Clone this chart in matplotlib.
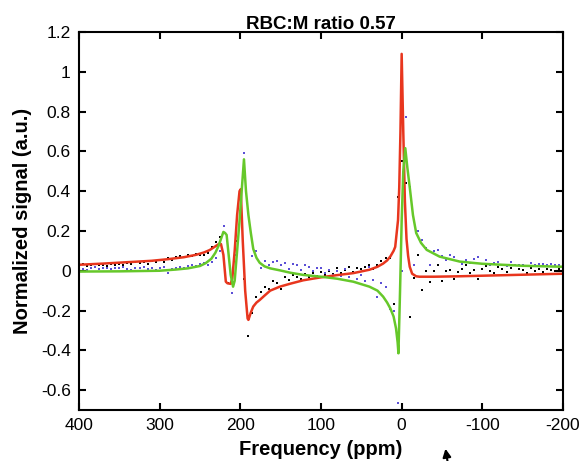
import numpy as np
import matplotlib.pyplot as plt

plt.rcParams['font.family'] = ['Liberation Sans', 'DejaVu Sans']

real_fit_ppm = [400, 370, 340, 310, 290, 270, 255, 245, 238, 232, 226, 224, 221, 218, 216, 212,
                210, 207, 204, 201, 199.5, 197, 194, 191, 190, 187, 184, 180, 176, 170, 163, 151,
                138, 122, 100, 80, 60, 40, 30, 23, 18, 14, 10, 8, 4.5, 3, 1.5, 0,
                -2, -4, -6, -8, -10, -13, -18, -22, -40, -70, -100, -150, -200]
real_fit = [0.030, 0.036, 0.043, 0.050, 0.058, 0.068, 0.080, 0.092, 0.104, 0.120, 0.136, 0.134,
            0.080, -0.055, -0.063, -0.066, -0.040, 0.100, 0.280, 0.400, 0.410, 0.150, -0.100,
            -0.240, -0.247, -0.210, -0.180, -0.160, -0.147, -0.125, -0.100, -0.080, -0.065,
            -0.048, -0.033, -0.022, -0.012, 0.005, 0.020, 0.036, 0.052, 0.072, 0.100, 0.120,
            0.255, 0.420, 0.700, 1.090, 0.700, 0.350, 0.160, 0.075, 0.020, -0.015, -0.028,
            -0.030, -0.030, -0.028, -0.025, -0.020, -0.015]

imag_fit_ppm = [400, 350, 300, 280, 265, 250, 243, 236, 231, 227, 224, 221, 219, 217, 215, 212,
                209, 207, 204, 201, 198, 195.5, 193, 190, 187, 184, 180, 176, 170, 163, 151, 138,
                122, 100, 80, 60, 40, 30, 23, 18, 14, 10, 7, 5, 4, 2, 0,
                -2, -4.5, -7, -10, -14, -18, -24, -31, -47, -72, -100, -150, -200]
imag_fit = [-0.004, -0.003, 0.000, 0.006, 0.012, 0.024, 0.038, 0.060, 0.090, 0.125, 0.160,
            0.195, 0.190, 0.180, 0.100, -0.020, -0.080, -0.050, 0.100, 0.250, 0.420, 0.560,
            0.400, 0.280, 0.190, 0.110, 0.065, 0.040, 0.022, 0.012, 0.002, -0.010, -0.021,
            -0.030, -0.040, -0.055, -0.080, -0.100, -0.130, -0.160, -0.190, -0.230, -0.290,
            -0.360, -0.415, -0.100, 0.250, 0.500, 0.616, 0.520, 0.420, 0.280, 0.190, 0.140,
            0.105, 0.071, 0.046, 0.035, 0.025, 0.020]

# measured points, 400 -> -200 ppm in 5 ppm steps
data_ppm = np.arange(400, -201, -5)
real_data = [0.030, 0.035, 0.025, 0.030, 0.020, 0.028, 0.030, 0.024, 0.032, 0.030,
             0.036, 0.028, 0.040, 0.033, 0.046, 0.038, 0.042, 0.036, 0.048, 0.044,
             0.052, 0.046, 0.063, 0.056, 0.070, 0.074, 0.068, 0.078, 0.072, 0.083,
             0.080, 0.080, 0.088, 0.121, 0.146, 0.170, 0.050, -0.060, -0.055, 0.150,
             0.360, -0.040, -0.330, -0.210, -0.130, -0.105, -0.080, -0.090, -0.050, -0.060,
             -0.090, -0.030, -0.045, -0.020, -0.030, -0.040, -0.015, -0.030, -0.010, -0.025,
             -0.005, -0.020, 0.000, -0.015, 0.012, -0.010, 0.005, 0.020, -0.005, 0.015,
             0.010, 0.020, 0.030, 0.010, 0.030, 0.050, 0.063, 0.063, -0.165, 0.372,
             0.550, 0.440, -0.235, -0.034, 0.080, -0.096, 0.000, -0.055, 0.000, 0.030,
             -0.050, 0.000, 0.005, -0.040, -0.005, 0.010, 0.030, -0.010, 0.005, -0.040,
             0.010, 0.025, 0.000, -0.010, 0.020, 0.010, -0.005, 0.015, -0.020, 0.010,
             0.005, -0.010, 0.012, 0.000, 0.008, -0.005, 0.010, 0.005, 0.000, 0.008,
             0.005]
imag_data = [0.015, 0.010, 0.005, 0.012, 0.018, 0.010, 0.015, 0.012, 0.008, 0.016,
             0.012, 0.018, 0.010, 0.005, 0.015, 0.012, 0.018, 0.010, 0.014, 0.006,
             0.012, 0.018, -0.010, 0.010, 0.014, 0.021, 0.016, 0.024, 0.029, 0.022,
             0.032, 0.040, 0.030, 0.045, 0.063, 0.100, 0.225, 0.120, -0.110, 0.080,
             0.300, 0.594, 0.300, 0.075, 0.100, 0.016, 0.047, 0.030, 0.046, 0.047,
             0.030, 0.040, 0.010, 0.035, 0.030, 0.005, 0.030, 0.020, 0.000, 0.015,
             0.013, -0.010, 0.005, -0.020, 0.000, -0.025, 0.010, -0.030, -0.010, -0.040,
             -0.020, -0.050, 0.020, -0.046, -0.130, -0.060, -0.080, -0.190, -0.200, -0.666,
             0.000, 0.775, 0.420, 0.030, 0.200, 0.156, 0.113, 0.030, 0.100, 0.105,
             0.075, 0.055, 0.080, 0.070, 0.050, 0.035, 0.055, 0.040, 0.060, 0.068,
             0.035, 0.055, 0.030, 0.040, 0.045, 0.030, 0.025, 0.045, 0.030, 0.028,
             0.030, 0.025, 0.040, 0.028, 0.032, 0.035, 0.030, 0.032, 0.028, 0.030,
             0.030]

fig = plt.figure(figsize=(5.87, 4.61), dpi=100)
ax = fig.add_axes([0.1346, 0.1106, 0.8245, 0.82])

ax.plot(data_ppm, real_data, 's', ms=2.0, color='black', mew=0)
ax.plot(data_ppm, imag_data, 's', ms=2.0, color='#5b4fd6', mew=0)
ax.plot(real_fit_ppm, real_fit, color='#e8361e', lw=1.8)
ax.plot(imag_fit_ppm, imag_fit, color='#66c82a', lw=1.8)

ax.set_xlim(400, -200)
ax.set_ylim(-0.7, 1.2)
ax.set_xticks([400, 300, 200, 100, 0, -100, -200])
ax.set_xticklabels(['400', '300', '200', '100', '0', '-100', '-200'])
ax.set_yticks(np.arange(-0.6, 1.21, 0.2))
ax.set_yticklabels(['-0.6', '-0.4', '-0.2', '0', '0.2', '0.4', '0.6', '0.8', '1', '1.2'])
ax.tick_params(direction='in', length=5, width=1.5, labelsize=12.5, top=True, right=True, pad=6)
for s in ax.spines.values():
    s.set_linewidth(1.5)

ax.set_xlabel('Frequency (ppm)', fontsize=14.5, fontweight='bold', labelpad=5)
ax.set_ylabel('Normalized signal (a.u.)', fontsize=14.5, fontweight='bold', labelpad=6)
ax.set_title('RBC:M ratio 0.57', fontsize=13.5, fontweight='bold', pad=2)

# arrow cut off at the bottom edge of the figure
fig.patches.append(plt.matplotlib.patches.FancyArrowPatch(
    (449 / 587, -0.02), (445 / 587, 1 - 446 / 461), transform=fig.transFigure,
    arrowstyle='-|>', mutation_scale=12, color='black', lw=1.5))

fig.savefig('out.png', dpi=100)
